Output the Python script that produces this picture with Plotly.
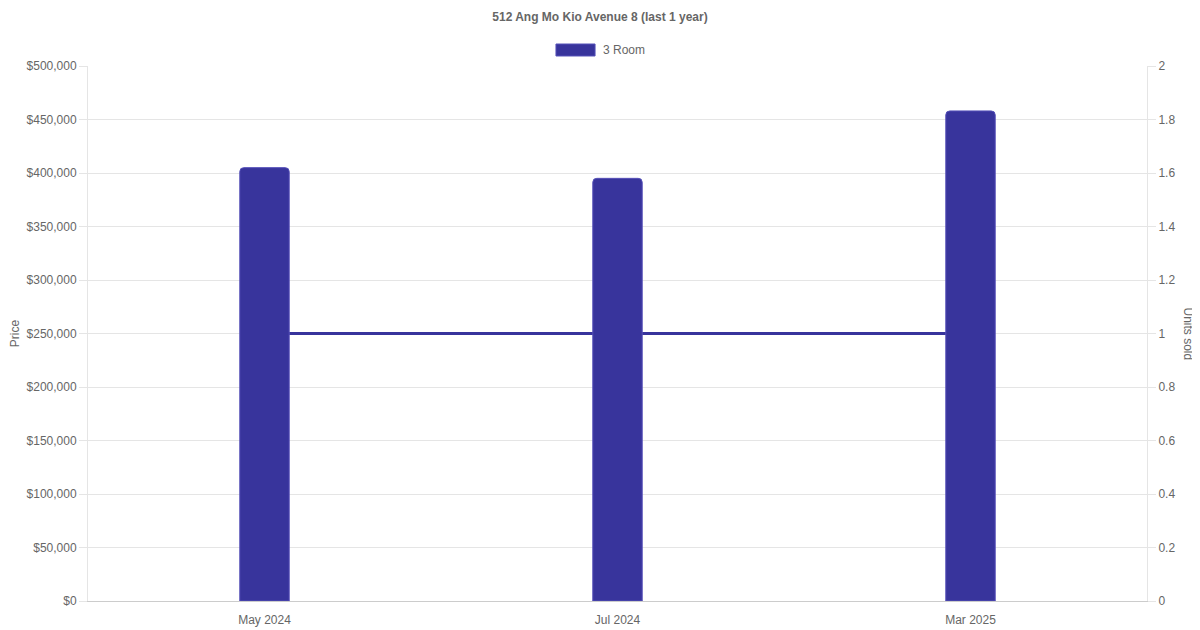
import plotly.graph_objects as go

months = ["May 2024", "Jul 2024", "Mar 2025"]
prices = [405000, 395000, 458000]
units_sold = [1, 1, 1]
series_name = "3 Room"

bar_color = "#38349c"
grid_color = "#e5e5e5"
text_color = "#666666"
font_family = "Liberation Sans, Arial, sans-serif"

fig = go.Figure()

# units line goes on the first axis so the bars (overlay axis) sit on top of it
fig.add_trace(go.Scatter(x=months, y=units_sold, mode="lines",
                         line=dict(color=bar_color, width=3),
                         yaxis="y", showlegend=False, hoverinfo="skip"))
fig.add_trace(go.Bar(x=months, y=prices, name=series_name, width=0.14,
                     marker=dict(color=bar_color, line=dict(color="#5550b8", width=1)),
                     yaxis="y2", showlegend=False))

# page body has an 8px margin, so margins are shifted to land the plot where the reference has it
fig.update_layout(
    width=1200, height=630,
    paper_bgcolor="white", plot_bgcolor="white",
    margin=dict(l=80, r=61, t=58, b=37, autoexpand=False),
    font=dict(family=font_family, size=12, color=text_color),
    title=dict(text="<b>512 Ang Mo Kio Avenue 8 (last 1 year)</b>",
               x=592 / 1200, xanchor="center", y=1 - 9 / 630, yanchor="middle",
               font=dict(size=12, color=text_color)),
    barcornerradius=4,
    xaxis=dict(type="category", showgrid=False, showline=True, linecolor="#cccccc",
               ticks="outside", ticklen=8, tickcolor="rgba(0,0,0,0)",
               tickfont=dict(size=12, color=text_color)),
    yaxis=dict(side="right", range=[0, 2], dtick=0.2, showgrid=False,
               showline=True, linecolor=grid_color, ticks="outside", ticklen=8,
               tickcolor=grid_color, zeroline=False, automargin=False,
               tickfont=dict(size=12, color=text_color)),
    yaxis2=dict(side="left", overlaying="y", range=[0, 500000], dtick=50000,
                tickprefix="$", tickformat=",", showgrid=True, gridcolor=grid_color,
                showline=True, linecolor=grid_color, ticks="outside", ticklen=8,
                tickcolor=grid_color, zeroline=False, automargin=False,
                title=dict(text="Price", font=dict(size=12, color=text_color), standoff=11),
                tickfont=dict(size=12, color=text_color)),
    shapes=[dict(type="rect", xref="paper", yref="paper",
                 x0=0.4419, x1=0.4788, y0=1.0187, y1=1.0411,
                 fillcolor=bar_color, line=dict(color="#5550b8", width=1))],
    annotations=[
        dict(text="Units sold", textangle=90, xref="paper", yref="paper",
             x=1, xshift=50, y=0.5, showarrow=False,
             font=dict(size=12, color=text_color)),
        dict(text=series_name, xref="paper", yref="paper", x=0.4844, xanchor="left",
             y=1.0299, yanchor="middle", showarrow=False,
             font=dict(size=12, color=text_color)),
    ],
)

fig.write_html("out.html")
